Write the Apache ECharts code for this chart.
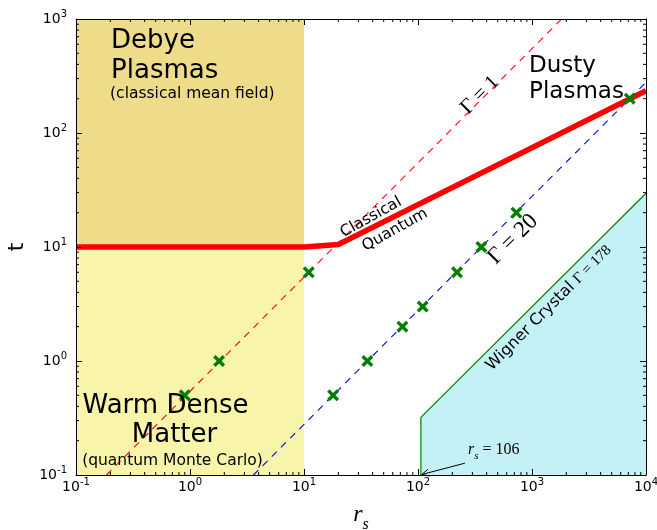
<!DOCTYPE html>
<html><head><meta charset="utf-8">
<script src="https://cdn.jsdelivr.net/npm/echarts@6/dist/echarts.min.js"></script>
<style>html,body{margin:0;padding:0;background:#fff}#c{width:657px;height:530px}</style>
</head><body><div id="c"></div>
<script>
// ---------------- data ----------------
const xRange = [0.1, 10000];
const yRange = [0.1, 1000];
// thick red classical / quantum boundary
const classicalQuantum = [[0.1, 10], [10, 10], [20, 10.5], [10000, 235]];
// Gamma = 1 (red dashed) and Gamma = 20 (blue dashed) lines
const gamma1 = [[0.185, 0.1], [1820, 1000]];
const gamma20 = [[3.6, 0.1], [10000, 278]];
// Wigner crystal boundary and region
const wignerBoundary = [[106, 0.1], [106, 0.32], [10000, 29.6]];
const wignerRegion = [[106, 0.1], [106, 0.32], [10000, 29.6], [10000, 0.1]];
// shaded regions
const debyeRegion = [[0.1, 10], [10, 10], [10, 1000], [0.1, 1000]];
const wdmRegion = [[0.1, 0.1], [10, 0.1], [10, 10], [0.1, 10]];
// green crosses (simulation points)
const pointsR = [0.9, 1.8, 11, 18, 36, 73, 110, 220, 360, 730, 7200];
const pointsT = [0.5, 1.0, 6, 0.5, 1, 2, 3, 6, 10, 20, 200];
// arrow for r_s = 106
const arrowTail = [258, 0.127];
const arrowHead = [108, 0.101];

// ---------------- annotations (anchored in data coordinates) ----------------
const SANS = 'DejaVu Sans';
const SERIF = 'Liberation Serif';
const notes = [
  {text: 'Debye\nPlasmas', at: [0.203, 472], size: 26, lh: 30, align: 'left'},
  {text: '(classical mean field)', at: [0.199, 218], size: 15.5, align: 'left'},
  {text: 'Dusty\nPlasmas', at: [942, 297], size: 23, lh: 26, align: 'left'},
  {text: 'Warm Dense', at: [0.61, 0.402], size: 26, align: 'center'},
  {text: 'Matter', at: [0.731, 0.223], size: 26, align: 'center'},
  {text: '(quantum Monte Carlo)', at: [0.702, 0.134], size: 15.5, align: 'center'},
  {text: 'Classical', at: [38.7, 18.2], size: 15.5, align: 'center', rot: 29},
  {text: 'Quantum', at: [62.8, 14.1], size: 15.5, align: 'center', rot: 29},
  {text: 'Γ = 1', at: [350, 215], size: 21, align: 'center', rot: 45, serif: true},
  {text: 'Γ = 20', at: [681, 11.7], size: 23, align: 'center', rot: 45, serif: true},
  {text: '{a|Wigner Crystal }{g|Γ = 178}', at: [1409, 2.92], size: 16, align: 'center', rot: 45,
   rich: {a: {fontSize: 16, fontFamily: SANS, fill: '#000'}, g: {fontSize: 15, fontFamily: SERIF, fill: '#000'}}},
  {text: '{r|r}{s|s}{e| = 106}', at: [275, 0.16], size: 16, align: 'left',
   rich: {r: {fontSize: 16, fontFamily: SERIF, fontStyle: 'italic', fill: '#000', padding: [0, 0, 3, 0]},
          s: {fontSize: 11, fontFamily: SERIF, fontStyle: 'italic', fill: '#000', verticalAlign: 'bottom'},
          e: {fontSize: 16, fontFamily: SERIF, fill: '#000', padding: [0, 0, 3, 0]}}}
];

// minor tick positions (2..9 x 10^k)
function minorVals(lo, hi) {
  const out = [];
  for (let k = Math.round(Math.log10(lo)); k < Math.round(Math.log10(hi)); k++)
    for (let m = 2; m <= 9; m++) out.push(m * Math.pow(10, k));
  return out;
}
const xMinor = minorVals(xRange[0], xRange[1]);
const yMinor = minorVals(yRange[0], yRange[1]);

// ---------------- chart ----------------
const chart = echarts.init(document.getElementById('c'), null, {renderer: 'canvas'});

const supRich = {
  b: {fontSize: 14, lineHeight: 20, fontFamily: SANS, color: '#000'},
  s: {fontSize: 10, lineHeight: 10, fontFamily: SANS, color: '#000', verticalAlign: 'top'}
};
function supFmt(v) {
  const e = Math.round(Math.log10(v));
  return '{b|10}{s|' + (e < 0 ? '-' + (-e) : e) + '}';
}
const lineBlack = {color: '#000', width: 1};

function axisX(pos, show) {
  return {
    type: 'log', logBase: 10, min: xRange[0], max: xRange[1], position: pos, z: 10,
    axisLine: {show: true, lineStyle: lineBlack},
    axisTick: {show: true, inside: true, length: 6, lineStyle: lineBlack},
    axisLabel: {show: show, margin: 2, formatter: supFmt, rich: supRich},
    splitLine: {show: false}, minorTick: {show: false},
    name: show ? '{r|r}{s|s}' : '', nameLocation: 'middle', nameGap: 28,
    nameTextStyle: {rich: {
      r: {fontSize: 24, fontFamily: SERIF, fontStyle: 'italic', color: '#000', padding: [0, 0, 6, 0]},
      s: {fontSize: 16, fontFamily: SERIF, fontStyle: 'italic', color: '#000', verticalAlign: 'bottom'}
    }}
  };
}
function axisY(pos, show) {
  return {
    type: 'log', logBase: 10, min: yRange[0], max: yRange[1], position: pos, z: 10,
    axisLine: {show: true, lineStyle: lineBlack},
    axisTick: {show: true, inside: true, length: 6, lineStyle: lineBlack},
    axisLabel: {show: show, margin: 9, formatter: supFmt, rich: supRich},
    splitLine: {show: false}, minorTick: {show: false},
    name: show ? 't' : '', nameLocation: 'middle', nameGap: 47, nameRotate: 90,
    nameTextStyle: {fontSize: 22, fontFamily: SANS, color: '#000'}
  };
}

function region(verts, fill) {
  return {
    type: 'custom', coordinateSystem: 'cartesian2d', clip: true, silent: true, z: 1,
    data: [[1, 1]],
    renderItem: (p, api) => ({
      type: 'polygon',
      shape: {points: verts.map(v => api.coord(v))},
      style: {fill: fill}
    })
  };
}

const crossPath = 'path://M2,0 L5,3 L8,0 L10,2 L7,5 L10,8 L8,10 L5,7 L2,10 L0,8 L3,5 L0,2 Z';

const option = {
  animation: false,
  backgroundColor: '#fff',
  grid: {left: 76, right: 11, top: 19, bottom: 55, outerBoundsMode: 'none', containLabel: false},
  xAxis: [axisX('bottom', true), axisX('top', false)],
  yAxis: [axisY('left', true), axisY('right', false)],
  series: [
    region(debyeRegion, '#EFDC8B'),
    region(wdmRegion, '#F8F4A9'),
    region(wignerRegion, '#C4F1F6'),
    {type: 'line', data: wignerBoundary, symbol: 'none', z: 2, clip: true,
     lineStyle: {color: '#008000', width: 1.2}},
    {type: 'line', data: gamma1, symbol: 'none', z: 3, clip: true,
     lineStyle: {color: '#ff0000', width: 1.1, type: [7, 6]}},
    {type: 'line', data: gamma20, symbol: 'none', z: 3, clip: true,
     lineStyle: {color: '#0000ff', width: 1.1, type: [7, 6]}},
    {type: 'line', data: classicalQuantum, symbol: 'none', z: 4, clip: true,
     lineStyle: {color: '#ff0000', width: 5.5, join: 'round', cap: 'butt'}},
    {type: 'scatter', data: pointsR.map((r, i) => [r, pointsT[i]]), symbol: crossPath, symbolSize: 12,
     z: 6, itemStyle: {color: '#007f00', opacity: 1}},
    // text annotations
    {type: 'custom', coordinateSystem: 'cartesian2d', clip: false, silent: true, z: 7,
     data: [[1, 1]],
     renderItem: (p, api) => ({
       type: 'group',
       children: notes.map(n => {
         const pt = api.coord(n.at);
         const st = {
           text: n.text, fill: '#000', fontSize: n.size,
           fontFamily: n.serif ? SERIF : SANS,
           align: n.align, verticalAlign: 'middle'
         };
         if (n.lh) st.lineHeight = n.lh;
         if (n.rich) st.rich = n.rich;
         return {type: 'text', x: pt[0], y: pt[1], rotation: (n.rot || 0) * Math.PI / 180, style: st};
       })
     })},
    // arrow
    {type: 'custom', coordinateSystem: 'cartesian2d', clip: false, silent: true, z: 7,
     data: [[1, 1]],
     renderItem: (p, api) => {
       const a = api.coord(arrowTail), b = api.coord(arrowHead);
       const ang = Math.atan2(a[1] - b[1], a[0] - b[0]);
       const L = 8, w = 0.45;
       const h1 = [b[0] + L * Math.cos(ang + w), b[1] + L * Math.sin(ang + w)];
       const h2 = [b[0] + L * Math.cos(ang - w), b[1] + L * Math.sin(ang - w)];
       return {type: 'group', children: [
         {type: 'line', shape: {x1: a[0], y1: a[1], x2: b[0], y2: b[1]}, style: {stroke: '#000', lineWidth: 1}},
         {type: 'polyline', shape: {points: [h1, b, h2]}, style: {stroke: '#000', lineWidth: 1, fill: null}}
       ]};
     }},
    // minor ticks on all four sides
    {type: 'custom', coordinateSystem: 'cartesian2d', clip: false, silent: true, z: 11,
     data: [[1, 1]],
     renderItem: (p, api) => {
       const cs = p.coordSys, m = 3, kids = [];
       const top = cs.y, bot = cs.y + cs.height, left = cs.x, right = cs.x + cs.width;
       xMinor.forEach(v => {
         const x = api.coord([v, yRange[0]])[0];
         kids.push({type: 'line', shape: {x1: x, y1: bot, x2: x, y2: bot - m}, style: {stroke: '#000', lineWidth: 1}});
         kids.push({type: 'line', shape: {x1: x, y1: top, x2: x, y2: top + m}, style: {stroke: '#000', lineWidth: 1}});
       });
       yMinor.forEach(v => {
         const y = api.coord([xRange[0], v])[1];
         kids.push({type: 'line', shape: {x1: left, y1: y, x2: left + m, y2: y}, style: {stroke: '#000', lineWidth: 1}});
         kids.push({type: 'line', shape: {x1: right, y1: y, x2: right - m, y2: y}, style: {stroke: '#000', lineWidth: 1}});
       });
       return {type: 'group', children: kids};
     }}
  ]
};
chart.setOption(option);
</script>
</body></html>
